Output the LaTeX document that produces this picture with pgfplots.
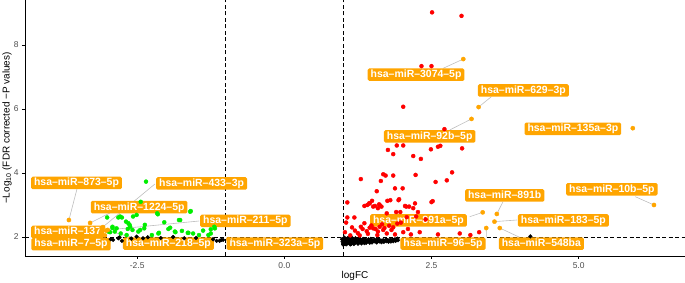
\documentclass[border=0pt]{standalone}
\usepackage{pgfplots}
\pgfplotsset{compat=1.18}
\usepackage{fontspec}
\setmainfont{Liberation Sans}
\definecolor{lblorange}{HTML}{FFA500}
\definecolor{ptgreen}{HTML}{00EE00}
\definecolor{ptred}{HTML}{FF0000}
\definecolor{tickgray}{HTML}{4D4D4D}
\definecolor{seggray}{HTML}{BEBEBE}
\begin{document}
\begin{tikzpicture}[
  lbl/.style={fill=lblorange, text=white, rounded corners=1.5bp, inner xsep=3bp, inner ysep=0bp,
    minimum height=12.5bp, text height=7.8bp, text depth=2.2bp,
    font=\fontsize{10.5}{10.5}\selectfont\bfseries, anchor=center}]
\begin{axis}[
  scale only axis, width=660bp, height=256bp,
  xmin=-4.406, xmax=6.807, ymin=1.406, ymax=9.406,
  axis x line*=bottom, axis y line*=left,
  axis line style={-, black, line width=0.6bp},
  tick align=outside, major tick length=3bp,
  tick style={black, line width=0.5bp},
  xtick={-2.5,0,2.5,5}, xticklabels={-2.5,0.0,2.5,5.0},
  ytick={2,4,6,8}, yticklabels={2,4,6,8},
  ticklabel style={font=\fontsize{8.5}{8.5}\selectfont, text=tickgray},
  xlabel={logFC},
  ylabel={−Log\textsubscript{10} (FDR corrected −P values)},
  label style={font=\fontsize{10.5}{10.5}\selectfont},
  every axis x label/.style={at={(axis description cs:0.5,0)}, yshift=-20bp, anchor=center},
  every axis y label/.style={at={(axis description cs:0,0.5)}, xshift=-18bp, rotate=90, anchor=center},
]
% threshold lines
\addplot[black, line width=0.6bp, dash pattern=on 4bp off 2.5bp] coordinates {(-1,1.406) (-1,9.406)};
\addplot[black, line width=0.6bp, dash pattern=on 4bp off 2.5bp] coordinates {(1,1.406) (1,9.406)};
\addplot[black, line width=0.6bp, dash pattern=on 4bp off 2.5bp] coordinates {(-4.406,2) (6.807,2)};
% not significant
\addplot[only marks, mark=*, mark size=1.9bp, black] coordinates {
(0.98,1.93)(0.99,1.85)(1.00,1.80)(1.01,1.90)(1.02,1.96)(1.03,1.78)(1.04,1.87)(1.05,1.83)(1.06,1.93)(1.07,1.80)
(1.08,1.89)(1.09,1.85)(1.10,1.95)(1.11,1.82)(1.12,1.90)(1.13,1.86)(1.14,1.79)(1.15,1.93)(1.16,1.88)(1.17,1.84)
(1.18,1.91)(1.19,1.86)(1.20,1.82)(1.22,1.89)(1.23,1.93)(1.24,1.85)(1.26,1.88)(1.27,1.83)(1.29,1.91)(1.30,1.87)
(1.32,1.85)(1.33,1.90)(1.35,1.87)(1.37,1.84)(1.38,1.92)(1.40,1.88)(1.42,1.86)(1.44,1.89)(1.46,1.85)(1.48,1.90)
(1.50,1.87)(1.52,1.88)(1.54,1.86)(1.56,1.89)(1.58,1.87)(1.60,1.88)(1.62,1.86)(1.64,1.89)(1.66,1.87)(1.68,1.90)
(1.70,1.88)(1.72,1.89)(1.74,1.87)(1.76,1.90)(1.78,1.88)(1.80,1.91)(1.82,1.89)(1.84,1.92)(1.86,1.90)(1.88,1.93)
(1.90,1.91)(1.92,1.95)(4.18,2.02)
(1.00,1.76)(1.02,1.98)(1.05,1.77)(1.08,1.97)(1.12,1.77)(1.15,1.97)(1.18,1.78)(1.21,1.96)(1.25,1.79)(1.28,1.95)
(1.31,1.80)(1.34,1.94)(1.36,1.81)(1.39,1.82)(1.43,1.93)(1.45,1.82)(1.49,1.83)(1.53,1.92)(1.57,1.83)(1.61,1.91)
(1.65,1.84)(1.69,1.85)(1.73,1.92)(1.77,1.85)(1.81,1.86)(1.85,1.87)(1.89,1.88)(1.93,1.90)(1.47,1.94)(1.59,1.94)
(-2.91,1.91)(-2.80,1.99)(-2.76,1.88)(-2.82,1.96)(-2.51,2.01)(-2.32,1.99)(-1.89,2.00)(-1.21,1.93)(-1.15,1.88)
(-1.10,1.88)(-1.07,1.91)(-1.04,1.91)(-2.60,1.95)(-2.40,1.96)(-2.10,1.97)(-1.70,1.96)(-1.50,1.97)(-2.95,1.93)
};
% down-regulated
\addplot[only marks, mark=*, mark size=2bp, ptgreen] coordinates {
(-2.35,3.73)(-2.44,3.10)(-1.59,2.81)(-2.15,2.71)(-2.57,2.64)(-2.82,2.61)(-2.76,2.61)(-3.01,2.61)(-2.69,2.48)(-1.77,2.53)
(-2.04,2.46)(-2.63,2.38)(-2.92,2.32)(-2.85,2.27)(-2.66,2.25)(-2.58,2.22)(-2.38,2.27)(-1.94,2.29)(-1.97,2.25)(-1.74,2.19)
(-1.64,2.13)(-1.38,2.20)(-1.25,2.24)(-1.18,2.27)(-1.45,2.06)(-1.25,2.11)(-2.14,2.11)(-2.48,2.17)(-2.96,2.15)(-2.78,2.11)
(-2.25,2.06)(-1.85,2.15)(-2.16,2.74)(-1.60,2.79)(-1.79,2.53)(-2.51,2.69)(-2.79,2.64)(-2.65,2.43)(-2.62,2.32)(-2.37,2.38)
(-2.13,2.13)(-1.86,2.17)(-1.63,2.13)(-1.19,2.32)(-2.99,2.17)(-2.92,2.28)(-2.88,2.17)(-2.68,2.06)(-2.45,2.22)(-1.55,2.11)
(-1.29,2.06)
};
% up-regulated
\addplot[only marks, mark=*, mark size=2bp, ptred] coordinates {
(2.51,9.02)(3.01,8.91)(2.33,7.34)(2.50,7.34)(2.02,6.07)(2.72,5.37)(1.91,4.86)(2.02,4.86)(2.61,4.82)(2.65,4.85)
(3.02,4.77)(2.49,4.74)(1.76,4.72)(1.85,4.59)(2.19,4.53)(2.32,4.44)(1.30,3.81)(2.85,4.02)(1.68,3.96)(1.72,3.92)
(1.85,3.92)(2.23,3.94)(2.76,3.77)(1.64,3.75)(2.57,3.72)(1.57,3.43)(1.88,3.52)(2.01,3.52)(1.07,3.08)(1.49,3.13)
(1.45,3.05)(1.75,3.13)(1.80,3.15)(1.94,3.15)(2.22,3.05)(2.50,3.09)(2.52,3.12)(1.41,3.00)(1.62,3.00)(1.51,2.95)
(1.59,2.90)(2.07,2.95)(2.12,2.95)(2.19,2.90)(1.07,2.61)(1.19,2.61)(1.90,2.78)(1.97,2.78)(2.27,2.78)(1.74,2.74)
(2.24,2.64)(1.30,2.32)(1.36,2.43)(1.45,2.29)(1.51,2.27)(1.62,2.32)(1.68,2.22)(1.82,2.22)(1.59,2.17)(1.74,2.11)
(2.02,2.15)(2.30,2.15)(2.61,2.08)(2.98,2.11)(3.16,2.06)(3.31,2.15)(1.03,2.15)
(1.36,2.97)(1.44,3.05)(1.54,2.97)(1.61,3.02)(1.65,2.95)(1.95,3.18)(2.05,2.97)(1.20,2.20)(1.25,2.12)(1.33,2.25)
(1.40,2.18)(1.48,2.36)(1.55,2.25)(1.66,2.40)(1.70,2.28)(1.78,2.35)(1.85,2.30)(1.92,2.42)(1.15,2.30)(1.12,2.05)
(1.28,2.05)(1.42,2.10)(1.58,2.06)(1.88,2.08)(2.10,2.25)(2.15,2.08)(1.98,2.45)(2.40,2.55)(2.08,2.62)(1.05,2.45)
};
% label segments
\addplot[seggray, line width=0.6bp] coordinates {(-3.523,3.50) (-3.66,2.53)};
\addplot[seggray, line width=0.6bp] coordinates {(-2.199,3.656) (-3.104,2.28)};
\addplot[seggray, line width=0.6bp] coordinates {(-2.963,2.75) (-3.30,2.44)};
\addplot[seggray, line width=0.6bp] coordinates {(-1.447,2.50) (-2.997,2.22)};
\addplot[seggray, line width=0.6bp] coordinates {(-2.60,2.00) (-3.03,2.20)};
\addplot[seggray, line width=0.6bp] coordinates {(2.696,7.27) (3.04,7.56)};
\addplot[seggray, line width=0.6bp] coordinates {(3.518,6.385) (3.30,6.06)};
\addplot[seggray, line width=0.6bp] coordinates {(2.810,5.344) (3.18,5.69)};
\addplot[seggray, line width=0.6bp] coordinates {(5.963,3.259) (6.28,3.00)};
\addplot[seggray, line width=0.6bp] coordinates {(3.715,3.103) (3.61,2.72)};
\addplot[seggray, line width=0.6bp] coordinates {(3.149,2.634) (3.37,2.77)};
\addplot[seggray, line width=0.6bp] coordinates {(3.953,2.531) (3.57,2.48)};
\addplot[seggray, line width=0.6bp] coordinates {(3.998,1.99) (3.66,2.28)};
\addplot[seggray, line width=0.6bp] coordinates {(3.433,1.99) (3.43,2.28)};
% labelled miRNAs
\addplot[only marks, mark=*, mark size=2.1bp, lblorange] coordinates {
(-3.66,2.53)(-3.30,2.44)(-3.08,2.31)(-3.104,2.28)(-3.00,2.22)(-3.05,2.05)(-3.03,2.20)(-0.95,1.93)
(3.04,7.56)(3.30,6.06)(3.18,5.69)(5.92,5.40)(6.28,3.00)(3.61,2.72)(3.37,2.77)(3.57,2.48)(3.66,2.28)(3.43,2.28)
};
% labels
\node[lbl] at (axis cs:-3.531,3.688) {hsa–miR–873–5p};
\node[lbl] at (axis cs:-1.406,3.672) {hsa–miR–433–3p};
\node[lbl] at (axis cs:-2.467,2.931) {hsa–miR–1224–5p};
\node[lbl] at (axis cs:-0.662,2.506) {hsa–miR–211–5p};
\node[lbl] at (axis cs:-3.681,2.156) {hsa–miR–137};
\node[lbl] at (axis cs:-3.625,1.775) {hsa–miR–7–5p};
\node[lbl] at (axis cs:-1.969,1.791) {hsa–miR–218–5p};
\node[lbl] at (axis cs:-0.161,1.791) {hsa–miR–323a–5p};
\node[lbl] at (axis cs:2.238,7.072) {hsa–miR–3074–5p};
\node[lbl] at (axis cs:4.061,6.578) {hsa–miR–629–3p};
\node[lbl] at (axis cs:2.470,5.147) {hsa–miR–92b–5p};
\node[lbl] at (axis cs:4.902,5.381) {hsa–miR–135a–3p};
\node[lbl] at (axis cs:5.565,3.491) {hsa–miR–10b–5p};
\node[lbl] at (axis cs:3.744,3.297) {hsa–miR–891b};
\node[lbl] at (axis cs:2.278,2.516) {hsa–miR–891a–5p};
\node[lbl] at (axis cs:4.740,2.516) {hsa–miR–183–5p};
\node[lbl] at (axis cs:2.696,1.791) {hsa–miR–96–5p};
\node[lbl] at (axis cs:4.367,1.791) {hsa–miR–548ba};
\end{axis}
\pgfresetboundingbox
\path (-25bp,-27bp) rectangle (660bp,256bp);
\end{tikzpicture}
\end{document}
